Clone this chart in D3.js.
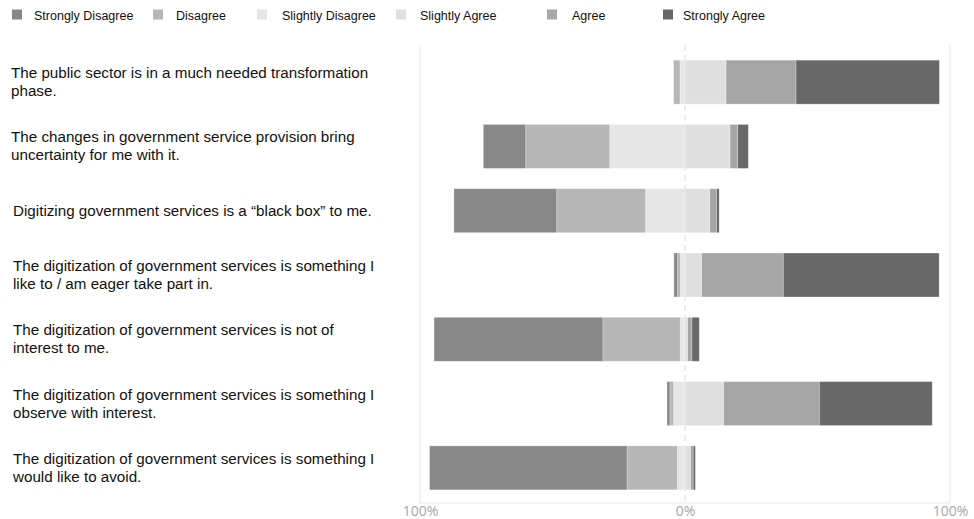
<!DOCTYPE html>
<html>
<head>
<meta charset="utf-8">
<script src="https://cdn.jsdelivr.net/npm/d3@7"></script>
<style>
  html, body { margin: 0; padding: 0; background: #fff; }
  svg { display: block; }
</style>
</head>
<body>
<svg id="chart" width="974" height="519"></svg>
<script>
// ---- data ----
const categories = [
  ["The public sector is in a much needed transformation", "phase."],
  ["The changes in government service provision bring", "uncertainty for me with it."],
  ["Digitizing government services is a \u201cblack box\u201d to me."],
  ["The digitization of government services is something I", "like to / am eager take part in."],
  ["The digitization of government services is not of", "interest to me."],
  ["The digitization of government services is something I", "observe with interest."],
  ["The digitization of government services is something I", "would like to avoid."]
];
const seriesNames = ["Strongly Disagree", "Disagree", "Slightly Disagree", "Slightly Agree", "Agree", "Strongly Agree"];
const stronglyDisagree = [0,    16.0, 38.8, 1.4, 63.7, 1.1, 74.5];
const disagree         = [2.4,  31.7, 33.5, 1.0, 29.2, 1.4, 19.0];
const slightlyDisagree = [1.9,  28.4, 14.9, 1.8, 1.8,  4.3, 2.9];
const slightlyAgree    = [15.5, 17.0, 9.4,  6.3, 1.0,  14.6, 2.1];
const agree            = [26.4, 2.9,  2.5,  30.8, 1.6, 36.1, 1.0];
const stronglyAgree    = [54.1, 4.0,  1.0,  58.8, 2.8, 42.6, 0.8];
const tickValues = [-100, 0, 100];
const tickLabels = ["100%", "0%", "100%"];

const colors = ["#888888", "#b6b6b6", "#e6e6e6", "#dfdfdf", "#a6a6a6", "#686868"];
const legendX = [12, 153, 257, 396, 547, 663];
const legendTextX = [34, 176, 282, 420, 572, 683];
const labelX = [11, 11, 13, 13, 13, 13, 13];

const svg = d3.select("#chart");

// ---- scales ----
const x = d3.scaleLinear().domain([-100, 100]).range([420, 950]);
const y = d3.scaleBand().domain(d3.range(categories.length)).range([50, 500])
  .paddingInner(0.316).paddingOuter(0.158);

const plotTop = 45, plotBottom = 503;

// frame
const frame = svg.append("g").attr("stroke", "#e8e8e8").attr("stroke-width", 1).attr("fill", "none");
frame.append("line").attr("x1", x(-100)).attr("x2", x(-100)).attr("y1", plotTop).attr("y2", plotBottom);
frame.append("line").attr("x1", x(100)).attr("x2", x(100)).attr("y1", plotTop).attr("y2", plotBottom);
frame.append("line").attr("x1", x(-100)).attr("x2", x(100)).attr("y1", plotBottom).attr("y2", plotBottom);

// zero line
svg.append("line")
  .attr("x1", x(0)).attr("x2", x(0)).attr("y1", plotTop).attr("y2", plotBottom)
  .attr("stroke", "#dcdcdc").attr("stroke-width", 1).attr("stroke-dasharray", "6,4");

// ---- bars ----
const rows = categories.map((c, i) => [
  stronglyDisagree[i], disagree[i], slightlyDisagree[i],
  slightlyAgree[i], agree[i], stronglyAgree[i]
]);

const segs = [];
rows.forEach((vals, i) => {
  let pos = 0;
  [2, 1, 0].forEach(k => {
    const v = vals[k];
    segs.push({row: i, k, x0: pos - v, x1: pos});
    pos -= v;
  });
  pos = 0;
  [3, 4, 5].forEach(k => {
    const v = vals[k];
    segs.push({row: i, k, x0: pos, x1: pos + v});
    pos += v;
  });
});

svg.append("g").selectAll("rect")
  .data(segs.filter(s => s.x1 - s.x0 > 0))
  .join("rect")
  .attr("x", d => x(d.x0))
  .attr("width", d => x(d.x1) - x(d.x0))
  .attr("y", d => y(d.row))
  .attr("height", y.bandwidth())
  .attr("fill", d => colors[d.k])
  .attr("stroke", "rgba(255,255,255,0.35)")
  .attr("stroke-width", 0.8);

// ---- category labels ----
const lineH = 18;
const lab = svg.append("g")
  .attr("font-family", "Liberation Sans, Arial, Helvetica, sans-serif")
  .attr("font-size", 15.2).attr("fill", "#111");
categories.forEach((lines, i) => {
  const cy = y(i) + y.bandwidth() / 2;
  const n = lines.length;
  const t = lab.append("text");
  lines.forEach((ln, j) => {
    t.append("tspan")
      .attr("x", labelX[i])
      .attr("y", cy + (j - (n - 1) / 2) * lineH + 5)
      .text(ln);
  });
});

// ---- axis ----
const axis = d3.axisBottom(x).tickValues(tickValues)
  .tickFormat((d, i) => tickLabels[i]).tickSize(0).tickPadding(0);
const ax = svg.append("g").attr("transform", `translate(0,${plotBottom})`).call(axis);
ax.select(".domain").remove();
ax.selectAll("text")
  .attr("dy", null).attr("y", 13)
  .attr("font-family", "Open Sans, Noto Sans, sans-serif")
  .attr("font-size", 14).attr("fill", "#a8a8a8");

// ---- legend ----
const leg = svg.append("g")
  .attr("font-family", "Liberation Sans, Arial, Helvetica, sans-serif")
  .attr("font-size", 12.5).attr("fill", "#111");
seriesNames.forEach((name, i) => {
  leg.append("rect").attr("x", legendX[i]).attr("y", 9.5).attr("width", 10).attr("height", 10)
    .attr("fill", colors[i]);
  leg.append("text").attr("x", legendTextX[i]).attr("y", 20).text(name);
});
</script>
</body>
</html>
